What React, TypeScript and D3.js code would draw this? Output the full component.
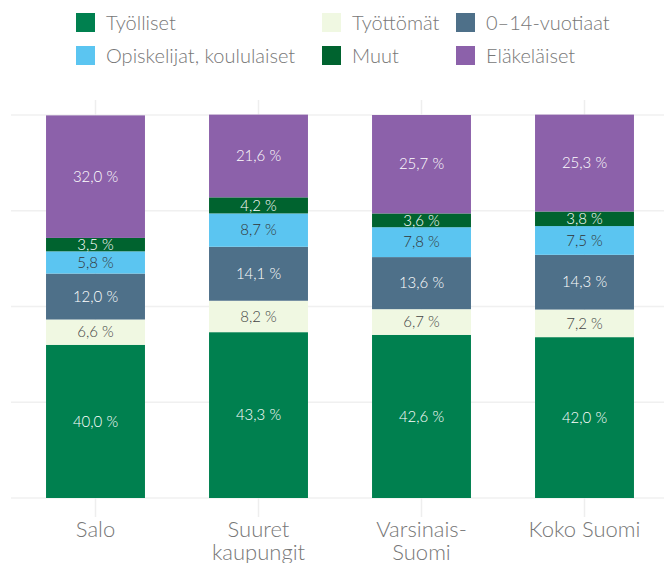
import React, { useMemo } from 'react';
import * as d3 from 'd3';

const categories = ['Salo', 'Suuret kaupungit', 'Varsinais-Suomi', 'Koko Suomi'];
const categoryLines = [['Salo'], ['Suuret', 'kaupungit'], ['Varsinais-', 'Suomi'], ['Koko Suomi']];
const seriesNames = ['Työlliset', 'Työttömät', '0–14-vuotiaat', 'Opiskelijat, koululaiset', 'Muut', 'Eläkeläiset'];
const seriesColors = ['#00804f', '#f0f8e2', '#4e7089', '#5bc5f1', '#00632f', '#8c61aa'];
const labelColors = ['#ffffff', '#444444', '#ffffff', '#333333', '#ffffff', '#ffffff'];

const tyolliset = [40.0, 43.3, 42.6, 42.0];
const tyottomat = [6.6, 8.2, 6.7, 7.2];
const lapset = [12.0, 14.1, 13.6, 14.3];
const opiskelijat = [5.8, 8.7, 7.8, 7.5];
const muut = [3.5, 4.2, 3.6, 3.8];
const elakelaiset = [32.0, 21.6, 25.7, 25.3];
const yTicks = [0, 25, 50, 75, 100];

// legend: three columns, two rows
const legendCols = [76, 322, 456];

const W = 664;
const H = 563;
const margin = { top: 115, right: -2, bottom: 65, left: 14 };

const fmt = (v: number) => v.toFixed(1).replace('.', ',') + ' %';

export default function App() {
  const values = [tyolliset, tyottomat, lapset, opiskelijat, muut, elakelaiset];

  const x = useMemo(
    () => d3.scaleBand<string>().domain(categories).range([margin.left, W - margin.right]).paddingInner(0.393).paddingOuter(0.1965),
    []
  );
  const y = useMemo(() => d3.scaleLinear().domain([0, 100]).range([H - margin.bottom, margin.top]), []);

  const table = categories.map((c, i) => {
    const row: Record<string, number | string> = { cat: c };
    seriesNames.forEach((s, j) => (row[s] = values[j][i]));
    return row;
  });
  const stacked = d3.stack<Record<string, number | string>>().keys(seriesNames)(table as any);

  const font = 'Lato, "Open Sans", sans-serif';

  return (
    <svg width={W} height={H} style={{ position: 'absolute', left: 0, top: 0, background: '#fff' }} fontFamily={font}>
      {/* grid */}
      {yTicks.map(t => (
        <line key={t} x1={11} x2={W} y1={y(t)} y2={y(t)} stroke="#f0f0f0" strokeWidth={1.5} />
      ))}
      {categories.map(c => (
        <line
          key={c}
          x1={x(c)! + x.bandwidth() / 2}
          x2={x(c)! + x.bandwidth() / 2}
          y1={100}
          y2={517}
          stroke="#eeeeee"
          strokeWidth={1.5}
        />
      ))}

      {/* bars */}
      {stacked.map((layer, j) => (
        <g key={layer.key} fill={seriesColors[j]}>
          {layer.map((d, i) => (
            <rect
              key={i}
              x={x(categories[i])}
              width={x.bandwidth()}
              y={y(d[1])}
              height={y(d[0]) - y(d[1])}
            />
          ))}
        </g>
      ))}

      {/* value labels */}
      {stacked.map((layer, j) => (
        <g key={layer.key + '-l'} fill={labelColors[j]} fontSize={15} fontWeight={300} textAnchor="middle">
          {layer.map((d, i) => (
            <text key={i} x={x(categories[i])! + x.bandwidth() / 2} y={(y(d[0]) + y(d[1])) / 2} dy="0.35em">
              {fmt(values[j][i])}
            </text>
          ))}
        </g>
      ))}

      {/* category labels */}
      {categories.map((c, i) => (
        <text key={c} x={x(c)! + x.bandwidth() / 2} y={537} fontSize={22} fontWeight={300} fill="#777777" textAnchor="middle">
          {categoryLines[i].map((l, k) => (
            <tspan key={k} x={x(c)! + x.bandwidth() / 2} dy={k === 0 ? 0 : 23}>
              {l}
            </tspan>
          ))}
        </text>
      ))}

      {/* legend */}
      {seriesNames.map((name, k) => {
        const lx = legendCols[k % 3];
        const ly = 13 + Math.floor(k / 3) * 33;
        return (
          <g key={name}>
            <rect x={lx} y={ly} width={19} height={19} fill={seriesColors[k]} />
            <text x={lx + 30} y={ly + 9.5} dy="0.35em" fontSize={20} fontWeight={300} fill="#777777">
              {name}
            </text>
          </g>
        );
      })}
    </svg>
  );
}
